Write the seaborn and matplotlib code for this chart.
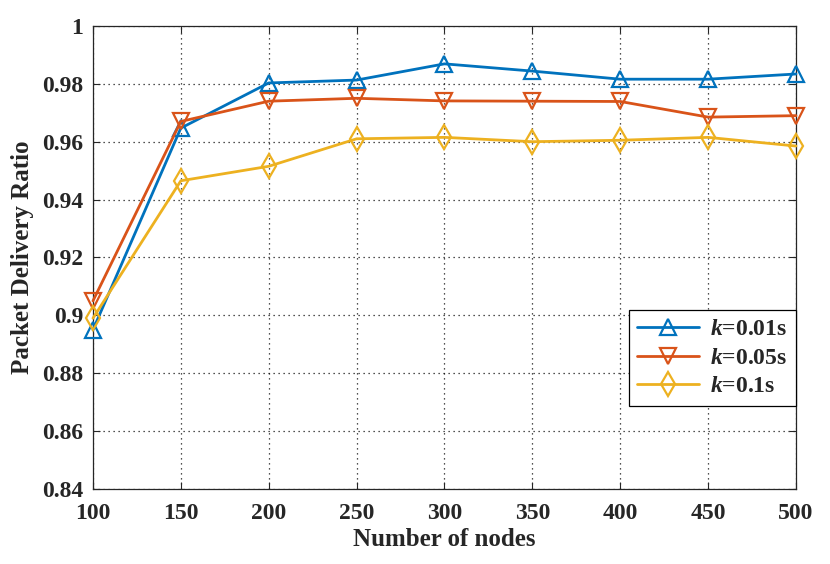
import pandas as pd
import seaborn as sns
import matplotlib.pyplot as plt

# Data
nodes = [100, 150, 200, 250, 300, 350, 400, 450, 500]
pdr_001 = [0.895, 0.9647, 0.9803, 0.9813, 0.9869, 0.9844, 0.9816, 0.9816, 0.9834]
pdr_005 = [0.905, 0.9670, 0.9740, 0.9750, 0.9741, 0.9740, 0.9739, 0.9685, 0.9690]
pdr_01 = [0.899, 0.9465, 0.9515, 0.9610, 0.9615, 0.9600, 0.9605, 0.9615, 0.9585]
labels = ["$k$=0.01s", "$k$=0.05s", "$k$=0.1s"]
colors = ["#0072BD", "#D95319", "#EDB120"]
markers = ["^", "v", "d"]
yticks = [0.84, 0.86, 0.88, 0.9, 0.92, 0.94, 0.96, 0.98, 1]
ytick_labels = ["0.84", "0.86", "0.88", "0.9", "0.92", "0.94", "0.96", "0.98", "1"]

sns.set_style("ticks")
plt.rcParams["font.family"] = ["Liberation Serif", "DejaVu Serif"]
plt.rcParams["font.weight"] = "bold"
plt.rcParams["mathtext.fontset"] = "custom"
plt.rcParams["mathtext.it"] = "Liberation Serif:italic:bold"
plt.rcParams["mathtext.rm"] = "Liberation Serif:bold"

fig = plt.figure(figsize=(8.3, 5.64), dpi=100)
ax = fig.add_axes([0.112, 0.133, 0.847, 0.821])

for vals, lab, col, mk in zip([pdr_001, pdr_005, pdr_01], labels, colors, markers):
    df = pd.DataFrame({"nodes": nodes, "pdr": vals})
    sns.lineplot(data=df, x="nodes", y="pdr", ax=ax, color=col, marker=mk,
                 markersize=11 if mk != "d" else 12, markerfacecolor="none",
                 markeredgecolor=col, markeredgewidth=1.6, linewidth=2,
                 label=lab, clip_on=False, zorder=3)

ax.set_xlim(100, 500)
ax.set_ylim(0.84, 1)
ax.set_xticks(nodes)
ax.set_xticklabels([str(n) for n in nodes], fontsize=17, fontweight="bold")
ax.set_yticks(yticks)
ax.set_yticklabels(ytick_labels, fontsize=17, fontweight="bold")
ax.tick_params(direction="in", top=True, right=True, length=5, width=0.8)
ax.tick_params(axis="x", pad=10)
ax.tick_params(axis="y", pad=7)
ax.grid(True, linestyle=(0, (1, 3)), color="black", linewidth=0.9, alpha=0.9)
for sp in ax.spines.values():
    sp.set_linewidth(0.9)
    sp.set_visible(True)

ax.set_xlabel("Number of nodes", fontsize=18, fontweight="bold", labelpad=3)
ax.set_ylabel("Packet Delivery Ratio", fontsize=18, fontweight="bold", labelpad=6)

leg = ax.legend(loc="lower right", bbox_to_anchor=(1.0, 0.18), fontsize=17,
                frameon=True, fancybox=False, edgecolor="black", framealpha=1,
                handlelength=2.6, borderpad=0.35, labelspacing=0.3, borderaxespad=0,
                handletextpad=0.5)
leg.get_frame().set_linewidth(0.9)

fig.savefig("out.png", dpi=100)
